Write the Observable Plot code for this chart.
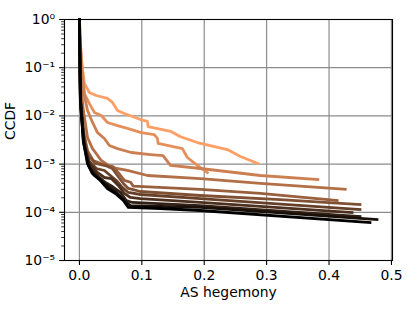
<!DOCTYPE html>
<html><head><meta charset="utf-8">
<script src="https://cdn.jsdelivr.net/npm/d3@7"></script>
<script src="https://cdn.jsdelivr.net/npm/@observablehq/plot@0.6"></script>
<style>body{margin:0;background:#fff}</style>
</head><body><div id="chart"></div>
<script>
// Each series: [AS hegemony, CCDF] pairs (lightest first, darkest last)
const line1 = [[0,1],[0.0016,0.37],[0.003,0.141],[0.008,0.047],[0.016,0.0306],[0.027,0.0265],[0.045,0.023],[0.053,0.019],[0.061,0.0129],[0.072,0.0112],[0.085,0.0097],[0.098,0.0084],[0.109,0.0077],[0.110,0.006],[0.146,0.0048],[0.162,0.0037],[0.189,0.0028],[0.237,0.002],[0.258,0.00144],[0.286,0.00103]];
const line2 = [[0,1],[0.0016,0.29],[0.005,0.0875],[0.008,0.029],[0.016,0.018],[0.024,0.0118],[0.035,0.0102],[0.045,0.0073],[0.061,0.0063],[0.077,0.0055],[0.099,0.0045],[0.12,0.0041],[0.125,0.0034],[0.126,0.0027],[0.165,0.0021],[0.173,0.00137],[0.189,0.00094],[0.205,0.00067]];
const line3 = [[0,1],[0.003,0.0875],[0.008,0.0265],[0.013,0.0129],[0.021,0.0073],[0.029,0.0045],[0.04,0.0034],[0.048,0.00243],[0.061,0.0021],[0.083,0.00174],[0.114,0.00158],[0.134,0.0015],[0.146,0.00094],[0.194,0.00081],[0.29,0.00058],[0.382,0.00048]];
const line4 = [[0,1],[0.0016,0.054],[0.0064,0.0129],[0.013,0.00356],[0.021,0.0021],[0.035,0.00119],[0.051,0.00085],[0.077,0.00074],[0.109,0.00058],[0.194,0.0005],[0.29,0.0004],[0.426,0.0003]];
const line5 = [[0,1],[0.0016,0.0336],[0.0064,0.005],[0.013,0.0019],[0.022,0.00119],[0.038,0.00098],[0.054,0.00089],[0.062,0.00067],[0.072,0.00046],[0.082,0.00042],[0.086,0.00035],[0.194,0.0003],[0.29,0.000246],[0.413,0.000176]];
const line6 = [[0,1],[0.0016,0.0265],[0.0064,0.00392],[0.0144,0.00151],[0.0256,0.00103],[0.0416,0.000935],[0.0528,0.00081],[0.0608,0.00058],[0.0704,0.000396],[0.0784,0.000312],[0.0976,0.00027],[0.1936,0.000223],[0.3216,0.000184],[0.4496,0.000145]];
const line7 = [[0,1],[0.0016,0.0209],[0.0064,0.0034],[0.0144,0.00119],[0.0272,0.00081],[0.04,0.000737],[0.0496,0.00058],[0.0592,0.000457],[0.0672,0.000343],[0.0784,0.000258],[0.0976,0.000234],[0.1936,0.000193],[0.4496,0.000114]];
const line8 = [[0,1],[0.0016,0.0209],[0.008,0.00243],[0.016,0.00103],[0.0288,0.00067],[0.04,0.000527],[0.0512,0.000502],[0.0624,0.00036],[0.072,0.000246],[0.0816,0.000203],[0.0976,0.000193],[0.1936,0.00016],[0.4368,0.000099]];
const line9 = [[0,1],[0.0016,0.0209],[0.008,0.00243],[0.0176,0.00081],[0.0304,0.000553],[0.0416,0.000415],[0.0528,0.000343],[0.0656,0.000258],[0.0752,0.000176],[0.0848,0.00016],[0.1936,0.000138],[0.4496,0.0000818]];
const line10 = [[0,1],[0.0016,0.0209],[0.0064,0.00281],[0.0144,0.000935],[0.024,0.00058],[0.0368,0.000436],[0.0464,0.000343],[0.0592,0.000258],[0.072,0.000176],[0.0816,0.000138],[0.1936,0.000126],[0.4768,0.000071]];
const line11 = [[0,1],[0.0016,0.0209],[0.0064,0.00309],[0.0128,0.00103],[0.0208,0.000638],[0.0336,0.000457],[0.0448,0.000312],[0.0576,0.000246],[0.0704,0.000176],[0.0784,0.000126],[0.1296,0.00012],[0.1936,0.000109],[0.4656,0.0000614]];

const xTicks = [0, 0.1, 0.2, 0.3, 0.4, 0.5];
const yMajor = [1, 1e-1, 1e-2, 1e-3, 1e-4, 1e-5];
const xLabel = "AS hegemony";
const yLabel = "CCDF";

const series = [line1, line2, line3, line4, line5, line6, line7, line8, line9, line10, line11];
const yMinor = [];
for (let k = -5; k < 0; k++) for (let m = 2; m <= 9; m++) yMinor.push(m * Math.pow(10, k));

function copper(t) {
  const r = Math.min(1, 1.25 * t), g = 0.7812 * t, b = 0.4975 * t;
  return d3.rgb(r * 255, g * 255, b * 255).formatHex();
}
const n = series.length;
const colors = series.map((_, i) => copper(0.8 * (1 - i / (n - 1))));

const supMap = {"-": "\u207B", "0": "\u2070", "1": "\u00B9", "2": "\u00B2", "3": "\u00B3", "4": "\u2074", "5": "\u2075", "6": "\u2076", "7": "\u2077", "8": "\u2078", "9": "\u2079"};
const fmtPow = d => "10" + String(Math.round(Math.log10(d))).split("").map(c => supMap[c]).join("");

const lineMarks = series.map((pts, i) => Plot.line(pts, {
  x: d => d[0], y: d => d[1], stroke: colors[i], strokeWidth: 2.8,
  strokeLinejoin: "round", strokeLinecap: "square"
}));

const chart = Plot.plot({
  width: 415, height: 312,
  marginLeft: 64, marginRight: 23, marginTop: 19, marginBottom: 52,
  style: {fontFamily: "DejaVu Sans", fontSize: "13.9px", background: "white", color: "black"},
  x: {domain: [-0.0239, 0.5017]},
  y: {type: "log", domain: [1e-5, 1]},
  marks: [
    Plot.gridX(xTicks, {stroke: "#8c8c8c", strokeOpacity: 1, strokeWidth: 1.2}),
    Plot.gridY(yMajor, {stroke: "#8c8c8c", strokeOpacity: 1, strokeWidth: 1.2}),
    ...lineMarks,
    Plot.frame({stroke: "black", strokeWidth: 1.1}),
    Plot.axisX(xTicks, {tickSize: 4.9, tickPadding: 4.5, tickFormat: d => d.toFixed(1), label: null, strokeWidth: 1.1}),
    Plot.axisY(yMajor, {anchor: "left", tickSize: 4.9, tickPadding: 4.5, tickFormat: fmtPow, label: null, strokeWidth: 1.1}),
    Plot.axisY(yMinor, {anchor: "left", tickSize: 2.8, tickFormat: () => "", label: null, strokeWidth: 0.8}),
    Plot.text([xLabel], {frameAnchor: "bottom", dy: 36, text: d => d, fontSize: 13.9}),
    Plot.text([yLabel], {frameAnchor: "left", dx: -54, rotate: -90, text: d => d, fontSize: 13.9})
  ]
});
document.getElementById("chart").appendChild(chart);
</script>
</body></html>
